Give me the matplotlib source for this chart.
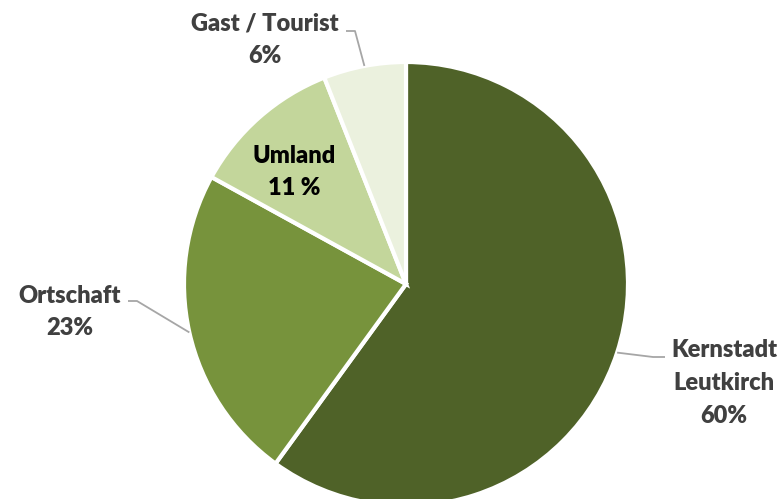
import matplotlib
matplotlib.use("Agg")
import matplotlib.pyplot as plt
import numpy as np

labels = ["Kernstadt\nLeutkirch\n60%", "Ortschaft\n23%", "Umland\n11 %", "Gast / Tourist\n6%"]
shares = [60, 23, 11, 6]
colors = ["#4F6228", "#77933C", "#C3D69B", "#EBF1DE"]

W, H = 781, 499
fig = plt.figure(figsize=(W / 100, H / 100), dpi=100)
ax = fig.add_axes([0, 0, 1, 1])

cx, cy, r = 406, H - 284, 222
wedges, _ = ax.pie(shares, colors=colors, startangle=90, counterclock=False,
                   center=(cx, cy), radius=r, frame=True,
                   wedgeprops=dict(edgecolor="white", linewidth=3))
ax.set_xlim(0, W)
ax.set_ylim(0, H)
ax.set_aspect("equal")
ax.axis("off")

font = dict(family="Lato", weight="heavy", fontsize=17, ha="center", va="center",
            linespacing=1.6)
grey = "#404040"
line_col = "#A6A6A6"

# label centres (pixels, image coords) and leader line elbows
text_pos = [(724, 383), (70, 312), (294, 172), (265, 40)]
elbows = [[(665, 357), (653, 357)], [(128, 301), (137, 301)], None, [(346, 31), (355, 31)]]

for w, lab, (tx, ty), elb in zip(wedges, labels, text_pos, elbows):
    col = "black" if elb is None else grey
    ax.text(tx, H - ty, lab, color=col, **font)
    if elb is None:
        continue
    a = np.deg2rad((w.theta1 + w.theta2) / 2)
    ex, ey = cx + r * np.cos(a), cy + r * np.sin(a)
    xs = [elb[0][0], elb[1][0], ex]
    ys = [H - elb[0][1], H - elb[1][1], ey]
    ax.plot(xs, ys, color=line_col, lw=1.3, solid_capstyle="butt")

fig.savefig("out.png", dpi=100)
